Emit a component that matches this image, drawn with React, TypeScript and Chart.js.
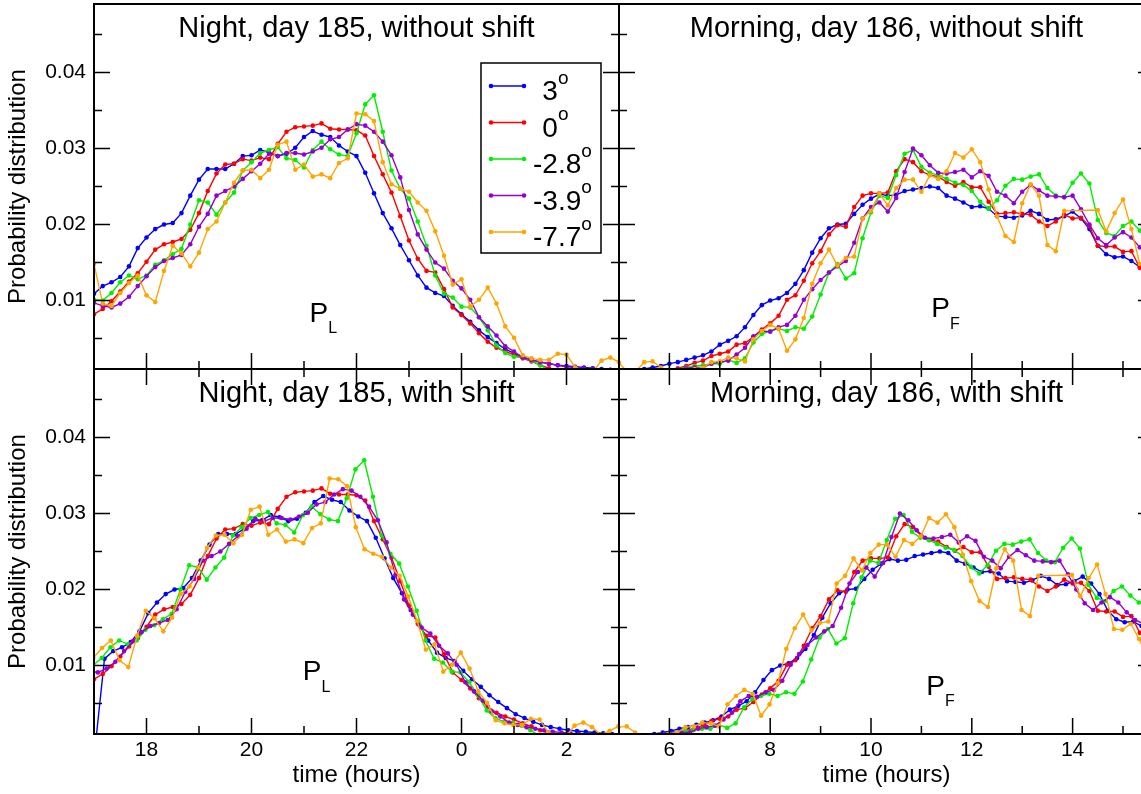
import React, { useEffect, useRef } from "react";
import { Chart, registerables } from "chart.js";

Chart.register(...registerables);

const FONT = "'Liberation Sans', Arial, Helvetica, sans-serif";
const CANVAS_W = 1160;
const CANVAS_H = 794;

// ---- series meta ----
const seriesNames = ["3", "0", "-2.8", "-3.9", "-7.7"]; // degrees (superscript "o")
const seriesColors = ["#0000ff", "#ff0000", "#00ee00", "#9400d3", "#ffa500"];
// time shift (minutes) used in the "with shift" panels
const shiftMinutes = [12, 0, -11.2, -15.6, -30.8];

// ---- time grid ----
const sampleStepMinutes = 10;
const nightStartHour = 16 + 50 / 60; // first sample 16:50 (hours past 24 = next day)
const morningStartHour = 4 + 50 / 60; // first sample 04:50

// ---- night (P_L), day 185 ----
const blueNight = [0.0000,
  0.0109, 0.0119, 0.0124, 0.0131, 0.0145, 0.0169, 0.0183, 0.0194, 0.0200, 0.0202,
  0.0215, 0.0238, 0.0259, 0.0273, 0.0273, 0.0273, 0.0280, 0.0290, 0.0291, 0.0298,
  0.0295, 0.0290, 0.0293, 0.0301, 0.0315, 0.0323, 0.0318, 0.0315, 0.0304, 0.0296,
  0.0290, 0.0268, 0.0241, 0.0215, 0.0195, 0.0173, 0.0153, 0.0133, 0.0117, 0.0110,
  0.0106, 0.0093, 0.0082, 0.0072, 0.0061, 0.0052, 0.0044, 0.0036, 0.0031, 0.0026,
  0.0022, 0.0019, 0.0017, 0.0015, 0.0014, 0.0013, 0.0012, 0.0011, 0.0010, 0.0009,
  0.0008];
const redNight = [null,
  0.0082, 0.0089, 0.0099, 0.0112, 0.0125, 0.0136, 0.0151, 0.0167, 0.0174, 0.0177,
  0.0181, 0.0193, 0.0215, 0.0244, 0.0267, 0.0279, 0.0280, 0.0286, 0.0284, 0.0288,
  0.0286, 0.0306, 0.0322, 0.0328, 0.0329, 0.0330, 0.0333, 0.0326, 0.0325, 0.0325,
  0.0324, 0.0317, 0.0290, 0.0266, 0.0242, 0.0211, 0.0179, 0.0155, 0.0139, 0.0137,
  0.0115, 0.0091, 0.0081, 0.0070, 0.0057, 0.0046, 0.0038, 0.0033, 0.0029, 0.0024,
  0.0020, 0.0015, 0.0011, 0.0008, 0.0006, 0.0005, 0.0004, 0.0003, 0.0003, 0.0002,
  0.0002];
const greenNight = [null,
  0.0101, 0.0100, 0.0110, 0.0124, 0.0133, 0.0128, 0.0133, 0.0147, 0.0153, 0.0161,
  0.0168, 0.0200, 0.0232, 0.0229, 0.0213, 0.0229, 0.0242, 0.0271, 0.0282, 0.0294,
  0.0298, 0.0302, 0.0287, 0.0285, 0.0275, 0.0298, 0.0309, 0.0299, 0.0292, 0.0290,
  0.0320, 0.0358, 0.0370, 0.0322, 0.0271, 0.0247, 0.0234, 0.0204, 0.0172, 0.0133,
  0.0109, 0.0104, 0.0092, 0.0091, 0.0078, 0.0061, 0.0041, 0.0031, 0.0026, 0.0025,
  0.0021, 0.0015, 0.0008, 0.0006, 0.0005, 0.0004, 0.0003, 0.0003, 0.0002, 0.0002,
  0.0002, 0.0002];
const purpleNight = [null,
  0.0097, 0.0093, 0.0091, 0.0096, 0.0105, 0.0119, 0.0132, 0.0144, 0.0152, 0.0156,
  0.0160, 0.0174, 0.0197, 0.0214, 0.0238, 0.0244, 0.0250, 0.0260, 0.0270, 0.0280,
  0.0293, 0.0290, 0.0294, 0.0294, 0.0292, 0.0296, 0.0301, 0.0312, 0.0315, 0.0325,
  0.0332, 0.0330, 0.0322, 0.0309, 0.0291, 0.0262, 0.0219, 0.0187, 0.0167, 0.0150,
  0.0142, 0.0126, 0.0116, 0.0101, 0.0078, 0.0066, 0.0054, 0.0040, 0.0033, 0.0025,
  0.0022, 0.0019, 0.0017, 0.0015, 0.0013, 0.0012, 0.0011, 0.0010, 0.0009, 0.0009,
  0.0008, 0.0008, 0.0007];
const orangeNight = [null,
  0.0148, 0.0096, 0.0093, 0.0110, 0.0123, 0.0133, 0.0107, 0.0098, 0.0139, 0.0172,
  0.0162, 0.0145, 0.0163, 0.0194, 0.0204, 0.0229, 0.0255, 0.0271, 0.0272, 0.0261,
  0.0272, 0.0305, 0.0309, 0.0272, 0.0279, 0.0263, 0.0266, 0.0261, 0.0281, 0.0287,
  0.0346, 0.0345, 0.0336, 0.0282, 0.0253, 0.0247, 0.0243, 0.0229, 0.0218, 0.0191,
  0.0159, 0.0121, 0.0128, 0.0092, 0.0101, 0.0117, 0.0096, 0.0066, 0.0051, 0.0028,
  0.0024, 0.0022, 0.0022, 0.0030, 0.0029, 0.0012, 0.0008, 0.0006, 0.0021, 0.0025,
  0.0019, 0.0009, 0.0014, 0.0020];

// ---- morning (P_F), day 186 ----
const blueMorning = [0.0005,
  0.0006, 0.0007, 0.0008, 0.0010, 0.0012, 0.0014, 0.0017, 0.0019, 0.0022, 0.0025,
  0.0028, 0.0033, 0.0042, 0.0047, 0.0053, 0.0065, 0.0081, 0.0094, 0.0100, 0.0103,
  0.0110, 0.0122, 0.0140, 0.0163, 0.0182, 0.0195, 0.0200, 0.0201, 0.0214, 0.0226,
  0.0234, 0.0240, 0.0238, 0.0239, 0.0244, 0.0246, 0.0248, 0.0250, 0.0248, 0.0238,
  0.0234, 0.0229, 0.0223, 0.0224, 0.0221, 0.0211, 0.0210, 0.0209, 0.0212, 0.0218,
  0.0214, 0.0206, 0.0207, 0.0211, 0.0217, 0.0208, 0.0194, 0.0172, 0.0161, 0.0157,
  0.0158, 0.0152, 0.0144, 0.0142];
const redMorning = [0.0001,
  0.0002, 0.0003, 0.0004, 0.0005, 0.0006, 0.0008, 0.0009, 0.0011, 0.0014, 0.0018,
  0.0021, 0.0027, 0.0030, 0.0033, 0.0042, 0.0044, 0.0052, 0.0062, 0.0070, 0.0080,
  0.0101, 0.0107, 0.0126, 0.0149, 0.0165, 0.0187, 0.0199, 0.0197, 0.0223, 0.0238,
  0.0241, 0.0241, 0.0242, 0.0270, 0.0286, 0.0282, 0.0270, 0.0265, 0.0263, 0.0256,
  0.0251, 0.0256, 0.0249, 0.0249, 0.0230, 0.0214, 0.0215, 0.0216, 0.0214, 0.0213,
  0.0204, 0.0198, 0.0204, 0.0213, 0.0208, 0.0209, 0.0198, 0.0172, 0.0171, 0.0171,
  0.0164, 0.0165, 0.0143, 0.0140];
const greenMorning = [0.0001,
  0.0001, 0.0002, 0.0003, 0.0004, 0.0005, 0.0006, 0.0008, 0.0010, 0.0012, 0.0014,
  0.0015, 0.0017, 0.0017, 0.0022, 0.0018, 0.0024, 0.0045, 0.0056, 0.0060, 0.0063,
  0.0060, 0.0065, 0.0063, 0.0079, 0.0108, 0.0137, 0.0148, 0.0129, 0.0136, 0.0182,
  0.0216, 0.0238, 0.0235, 0.0265, 0.0293, 0.0298, 0.0276, 0.0268, 0.0265, 0.0260,
  0.0255, 0.0252, 0.0244, 0.0230, 0.0221, 0.0232, 0.0251, 0.0260, 0.0259, 0.0263,
  0.0266, 0.0248, 0.0238, 0.0236, 0.0255, 0.0267, 0.0254, 0.0206, 0.0189, 0.0185,
  0.0198, 0.0204, 0.0192, 0.0183, 0.0180];
const purpleMorning = [0.0001,
  0.0002, 0.0003, 0.0004, 0.0005, 0.0006, 0.0007, 0.0008, 0.0010, 0.0011, 0.0012,
  0.0012, 0.0017, 0.0019, 0.0021, 0.0029, 0.0038, 0.0053, 0.0060, 0.0059, 0.0065,
  0.0068, 0.0080, 0.0101, 0.0115, 0.0127, 0.0137, 0.0145, 0.0152, 0.0176, 0.0208,
  0.0223, 0.0229, 0.0217, 0.0235, 0.0269, 0.0300, 0.0291, 0.0278, 0.0268, 0.0267,
  0.0269, 0.0272, 0.0262, 0.0270, 0.0264, 0.0243, 0.0238, 0.0228, 0.0243, 0.0252,
  0.0245, 0.0238, 0.0237, 0.0236, 0.0238, 0.0220, 0.0200, 0.0182, 0.0173, 0.0183,
  0.0190, 0.0183, 0.0170, 0.0160, 0.0155];
const orangeMorning = [0.0020,
  0.0018, 0.0006, 0.0007, 0.0019, 0.0020, 0.0012, 0.0006, 0.0007, 0.0009, 0.0010,
  0.0012, 0.0019, 0.0020, 0.0025, 0.0024, 0.0020, 0.0049, 0.0060, 0.0068, 0.0063,
  0.0034, 0.0049, 0.0077, 0.0122, 0.0149, 0.0167, 0.0146, 0.0156, 0.0158, 0.0208,
  0.0218, 0.0241, 0.0225, 0.0248, 0.0259, 0.0259, 0.0243, 0.0265, 0.0260, 0.0270,
  0.0294, 0.0288, 0.0299, 0.0282, 0.0246, 0.0211, 0.0185, 0.0177, 0.0228, 0.0253,
  0.0238, 0.0173, 0.0165, 0.0218, null, null, null, 0.0219, 0.0191, 0.0215,
  0.0233, 0.0194, 0.0148, 0.0147, 0.0155, 0.0135, 0.0110];

const nightSeries = [blueNight, redNight, greenNight, purpleNight, orangeNight];
const morningSeries = [blueMorning, redMorning, greenMorning, purpleMorning, orangeMorning];

// ---- axes ----
const yMin = 0.001;
const yMax = 0.049;
const yMajorTicks = [0.01, 0.02, 0.03, 0.04];
const yTickLabels = ["0.01", "0.02", "0.03", "0.04"];
const yMinorTicks = [0.005, 0.015, 0.025, 0.035, 0.045];

const nightRange = [17, 27];
const nightMajorTicks = [18, 20, 22, 24, 26];
const nightTickLabels = ["18", "20", "22", "0", "2"];
const nightMinorTicks = [17, 19, 21, 23, 25, 27];

const morningRange = [5, 15.615];
const morningMajorTicks = [6, 8, 10, 12, 14];
const morningTickLabels = ["6", "8", "10", "12", "14"];
const morningMinorTicks = [5, 7, 9, 11, 13, 15];

const xAxisTitle = "time (hours)";
const yAxisTitle = "Probability distribution";

// ---- layout (pixels) ----
const AREA_X = { left: [94, 619], right: [619, 1154] };
const AREA_Y = { top: [4, 369], bottom: [369, 734] };

type Spec = {
  key: string;
  col: "left" | "right";
  row: "top" | "bottom";
  title: string;
  sub: string;
  night: boolean;
  shifted: boolean;
  legend: boolean;
  annot: { dx: number; dy: number; subDy: number };
};

const panels: Spec[] = [
  { key: "tl", col: "left", row: "top", title: "Night, day 185, without shift", sub: "L", night: true, shifted: false, legend: true, annot: { dx: 215.5, dy: 317.7, subDy: 11.6 } },
  { key: "tr", col: "right", row: "top", title: "Morning, day 186, without shift", sub: "F", night: false, shifted: false, legend: false, annot: { dx: 312.2, dy: 312.7, subDy: 12.6 } },
  { key: "bl", col: "left", row: "bottom", title: "Night, day 185, with shift", sub: "L", night: true, shifted: true, legend: false, annot: { dx: 208.7, dy: 311, subDy: 11.7 } },
  { key: "br", col: "right", row: "bottom", title: "Morning, day 186, with shift", sub: "F", night: false, shifted: true, legend: false, annot: { dx: 307.2, dy: 326, subDy: 11 } },
];

function makeDecor(spec: Spec, major: number[], minor: number[]) {
  return {
    id: "decor_" + spec.key,
    afterDatasetsDraw(chart: any) {
      const { ctx, chartArea: a } = chart;
      const xs = chart.scales.x;
      const ys = chart.scales.y;
      ctx.save();
      // inward ticks
      ctx.strokeStyle = "#000";
      ctx.lineWidth = 1.5;
      ctx.beginPath();
      const xTick = (v: number, len: number) => {
        const px = xs.getPixelForValue(v);
        if (px <= a.left + 1 || px >= a.right - 1) return;
        ctx.moveTo(px, a.bottom);
        ctx.lineTo(px, a.bottom - len);
        if (spec.row === "bottom") {
          ctx.moveTo(px, a.top);
          ctx.lineTo(px, a.top + len);
        }
      };
      major.forEach((v) => xTick(v, 16));
      minor.forEach((v) => xTick(v, 8));
      const yTick = (v: number, len: number) => {
        const py = ys.getPixelForValue(v);
        ctx.moveTo(a.left, py);
        ctx.lineTo(a.left + len, py);
        ctx.moveTo(a.right, py);
        ctx.lineTo(a.right - len, py);
      };
      yMajorTicks.forEach((v) => yTick(v, 16));
      yMinorTicks.forEach((v) => yTick(v, 8));
      ctx.stroke();
      // frame
      ctx.lineWidth = 2;
      ctx.strokeRect(a.left, a.top, a.right - a.left, a.bottom - a.top);
      // title
      ctx.fillStyle = "#000";
      ctx.textBaseline = "alphabetic";
      ctx.textAlign = "center";
      ctx.font = `29px ${FONT}`;
      ctx.fillText(spec.title, (a.left + a.right) / 2, a.top + 33.3);
      // P label with subscript
      ctx.textAlign = "left";
      ctx.font = `28px ${FONT}`;
      const px = a.left + spec.annot.dx;
      const py = a.top + spec.annot.dy;
      ctx.fillText("P", px, py);
      const pw = ctx.measureText("P").width;
      ctx.font = `16px ${FONT}`;
      ctx.fillText(spec.sub, px + pw, py + spec.annot.subDy);
      // legend
      if (spec.legend) {
        const L = { x: a.left + 387, y: a.top + 59, w: 120, h: 190 };
        ctx.fillStyle = "#fff";
        ctx.fillRect(L.x, L.y, L.w, L.h);
        ctx.lineWidth = 1.5;
        ctx.strokeStyle = "#000";
        ctx.strokeRect(L.x, L.y, L.w, L.h);
        chart.data.datasets.forEach((ds: any, i: number) => {
          const ly = L.y + 23 + i * 36.5;
          const x0 = L.x + 10;
          const x1 = L.x + 43;
          ctx.strokeStyle = ds.borderColor;
          ctx.fillStyle = ds.borderColor;
          ctx.lineWidth = 1.4;
          ctx.beginPath();
          ctx.moveTo(x0, ly);
          ctx.lineTo(x1, ly);
          ctx.stroke();
          [x0, x1].forEach((xx) => {
            ctx.beginPath();
            ctx.arc(xx, ly, 2.3, 0, Math.PI * 2);
            ctx.fill();
          });
          ctx.fillStyle = "#000";
          ctx.font = `28px ${FONT}`;
          const name = seriesNames[i];
          const minusW = ctx.measureText("-").width;
          const tx = L.x + 52 + (name.startsWith("-") ? 0 : minusW);
          const base = ly + 14.3;
          ctx.fillText(name, tx, base);
          const nw = ctx.measureText(name).width;
          ctx.font = `19px ${FONT}`;
          ctx.fillText("o", tx + nw, base - 16.7);
        });
      }
      ctx.restore();
    },
  };
}

function Panel({ spec }: { spec: Spec }) {
  const ref = useRef<HTMLCanvasElement>(null);
  useEffect(() => {
    const canvas = ref.current;
    if (!canvas) return;
    const [ax0, ax1] = spec.col === "left" ? AREA_X.left : AREA_X.right;
    const [ay0, ay1] = spec.row === "top" ? AREA_Y.top : AREA_Y.bottom;
    const isLeft = spec.col === "left";
    const isBottom = spec.row === "bottom";
    const values = spec.night ? nightSeries : morningSeries;
    const start = spec.night ? nightStartHour : morningStartHour;
    const range = spec.night ? nightRange : morningRange;
    const major = spec.night ? nightMajorTicks : morningMajorTicks;
    const minor = spec.night ? nightMinorTicks : morningMinorTicks;
    const labels = spec.night ? nightTickLabels : morningTickLabels;

    const datasets = values.map((vals, s) => {
      const shift = spec.shifted ? shiftMinutes[s] / 60 : 0;
      return {
        label: seriesNames[s] + "°",
        data: vals.map((v, k) => ({ x: start + (k * sampleStepMinutes) / 60 + shift, y: v })),
        borderColor: seriesColors[s],
        backgroundColor: seriesColors[s],
        pointBackgroundColor: seriesColors[s],
        pointBorderWidth: 0,
        pointRadius: 2.3,
        borderWidth: 1.4,
        tension: 0,
        spanGaps: true,
        clip: 0,
        order: values.length - s,
      };
    });

    const chart = new Chart(canvas, {
      type: "line",
      data: { datasets } as any,
      options: {
        animation: false,
        responsive: false,
        devicePixelRatio: 1,
        events: [],
        layout: {
          padding: {
            left: isLeft ? 0 : ax0,
            right: CANVAS_W - ax1,
            top: ay0,
            bottom: isBottom ? 0 : CANVAS_H - ay1,
          },
        },
        plugins: {
          legend: { display: false },
          title: { display: false },
          tooltip: { enabled: false },
        },
        scales: {
          x: {
            type: "linear",
            min: range[0],
            max: range[1],
            display: isBottom,
            grid: { display: false, drawTicks: false },
            border: { display: false },
            afterBuildTicks: (s: any) => {
              s.ticks = major.map((v) => ({ value: v }));
            },
            afterFit: (s: any) => {
              s.height = isBottom ? CANVAS_H - ay1 : 0;
              s.paddingLeft = 0;
              s.paddingRight = 0;
            },
            ticks: {
              autoSkip: false,
              maxRotation: 0,
              padding: 4,
              color: "#000",
              font: { family: FONT, size: 21 },
              callback: (_v: any, i: number) => labels[i],
            },
            title: {
              display: true,
              text: xAxisTitle,
              color: "#000",
              font: { family: FONT, size: 24 },
              padding: { top: 0, bottom: 4 },
            },
          },
          y: {
            type: "linear",
            min: yMin,
            max: yMax,
            display: isLeft,
            grid: { display: false, drawTicks: false },
            border: { display: false },
            afterBuildTicks: (s: any) => {
              s.ticks = yMajorTicks.map((v) => ({ value: v }));
            },
            afterFit: (s: any) => {
              s.width = isLeft ? ax0 : 0;
              s.paddingTop = 0;
              s.paddingBottom = 0;
            },
            ticks: {
              padding: 8,
              color: "#000",
              font: { family: FONT, size: 21 },
              callback: (_v: any, i: number) => yTickLabels[i],
            },
            title: {
              display: true,
              text: yAxisTitle,
              color: "#000",
              font: { family: FONT, size: 24 },
              padding: { top: 4, bottom: 0 },
            },
          },
        },
      } as any,
      plugins: [makeDecor(spec, major, minor)],
    });
    return () => chart.destroy();
  }, [spec]);

  return (
    <canvas
      ref={ref}
      width={CANVAS_W}
      height={CANVAS_H}
      style={{ position: "absolute", left: 0, top: 0, width: CANVAS_W, height: CANVAS_H }}
    />
  );
}

export default function App() {
  return (
    <div
      style={{
        position: "absolute",
        left: 0,
        top: 0,
        width: 1141,
        height: 794,
        overflow: "hidden",
        background: "#fff",
      }}
    >
      {panels.map((p) => (
        <Panel key={p.key} spec={p} />
      ))}
    </div>
  );
}
